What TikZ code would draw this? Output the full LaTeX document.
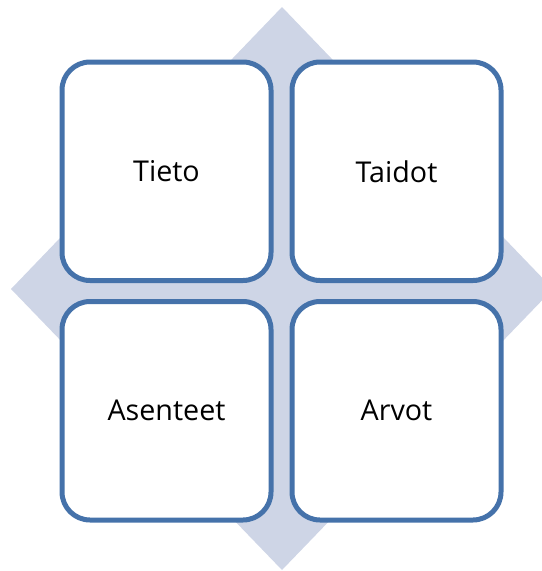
\documentclass[tikz,border=0pt]{standalone}
\usepackage{fontspec}
\setmainfont{Open Sans}
\usetikzlibrary{positioning}
\definecolor{cellblue}{RGB}{69,114,170}
\definecolor{diamondfill}{RGB}{206,213,230}
\tikzset{
	cell/.style={draw=cellblue, fill=white, line width=5*0.75pt, rounded corners=28*0.75pt,
		minimum width=209*0.75pt, minimum height=218.5*0.75pt, inner sep=0pt, outer sep=0pt,
		font=\fontsize{21.5}{26}\selectfont},
}

\begin{document}
\begin{tikzpicture}[x=0.75pt, y=-0.75pt, node distance=21*0.75pt]
	\useasboundingbox (0,0) rectangle (542,571);
	
	%--- background diamond (cut off at the right border) ---
	\begin{scope}
	\clip (0,0) rectangle (542,571);
	\fill[diamondfill] (282,7) -- (553,289) -- (282,570) -- (11,289) -- cycle;
	\end{scope}
	
	%--- the four cells of the matrix ---
	\node[cell] (tieto) at (166.5,171.25) {Tieto};
	\node[cell, right=of tieto] (taidot) {Taidot};
	\node[cell, below=of tieto] (asenteet) {Asenteet};
	\node[cell, below=of taidot] (arvot) {Arvot};
\end{tikzpicture}
\end{document}
